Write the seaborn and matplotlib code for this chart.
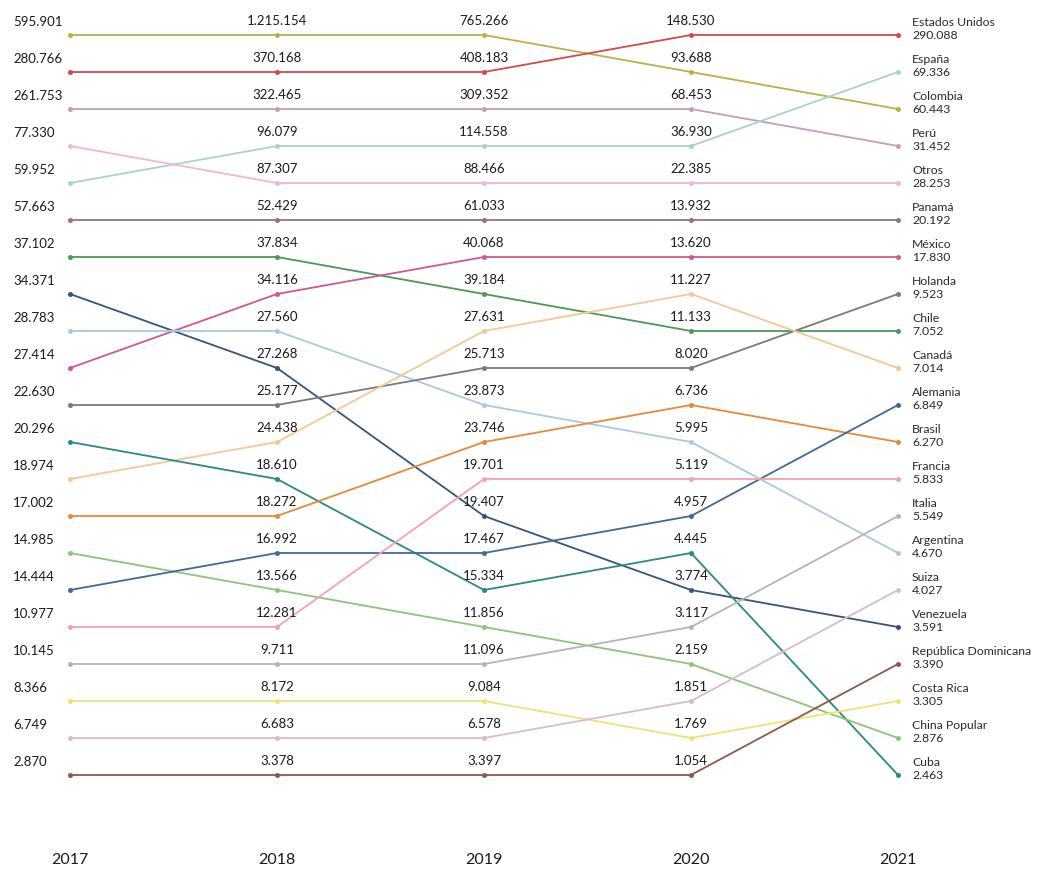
import matplotlib
matplotlib.use("Agg")
import matplotlib.pyplot as plt
import seaborn as sns
import pandas as pd

years = ["2017", "2018", "2019", "2020", "2021"]
countries = ["Colombia", "Estados Unidos", "Perú", "España", "Otros", "Panamá",
             "Chile", "México", "Venezuela", "Argentina", "Holanda", "Canadá",
             "Cuba", "Brasil", "China Popular", "Alemania", "Francia", "Italia",
             "Costa Rica", "Suiza", "República Dominicana"]
v2017 = [595901, 280766, 261753, 59952, 77330, 57663, 37102, 27414, 34371, 28783,
         22630, 18974, 20296, 17002, 14985, 14444, 10977, 10145, 8366, 6749, 2870]
v2018 = [1215154, 370168, 322465, 96079, 87307, 52429, 37834, 34116, 27268, 27560,
         25177, 24438, 18610, 18272, 13566, 16992, 12281, 9711, 8172, 6683, 3378]
v2019 = [765266, 408183, 309352, 114558, 88466, 61033, 39184, 40068, 19407, 23873,
         25713, 27631, 15334, 23746, 11856, 17467, 19701, 11096, 9084, 6578, 3397]
v2020 = [93688, 148530, 68453, 36930, 22385, 13932, 11133, 13620, 3774, 5995,
         8020, 11227, 4445, 6736, 2159, 4957, 5119, 3117, 1769, 1851, 1054]
v2021 = [60443, 290088, 31452, 69336, 28253, 20192, 7052, 17830, 3591, 4670,
         9523, 7014, 2463, 6270, 2876, 6849, 5833, 5549, 3305, 4027, 3390]
colors = ["#bdae48", "#d4494a", "#c59cba", "#a6d3cf", "#f2b8c6", "#94728f",
          "#4a9a55", "#d0588c", "#34557f", "#a9c9e3", "#7a7a7a", "#f6c694",
          "#2b8a80", "#e58a3a", "#8cc47a", "#3f6a98", "#f3a3ad", "#b4b4b4",
          "#efe07a", "#d6bcc8", "#8a5a4c"]

values = [v2017, v2018, v2019, v2020, v2021]

rows = []
for yi, (yr, vals) in enumerate(zip(years, values)):
    s = pd.Series(vals, index=countries)
    rk = s.rank(ascending=False, method="first").astype(int)
    for c in countries:
        rows.append({"country": c, "year": yr, "xi": yi, "value": s[c], "rank": rk[c]})
df = pd.DataFrame(rows)

def fmt(v):
    return f"{v:,}".replace(",", ".")

sns.set_theme(style="white")
plt.rcParams["font.family"] = ["Lato", "DejaVu Sans"]

fig = plt.figure(figsize=(10.53, 8.69), dpi=100)
ax = fig.add_axes([0, 0, 1, 1])
palette = dict(zip(countries, colors))

sns.lineplot(data=df, x="xi", y="rank", hue="country", palette=palette,
             units="country", estimator=None, sort=True, linewidth=1.3,
             marker="o", markersize=3.6, markeredgewidth=0, legend=False, ax=ax)

px = 0.72  # points per pixel at dpi 100
for _, r in df.iterrows():
    if r["xi"] == 0:
        ax.annotate(fmt(r["value"]), (r["xi"], r["rank"]), xytext=(-57 * px, 13 * px),
                    textcoords="offset points", ha="left", va="center",
                    fontsize=9.5, color="#1a1a1a")
    elif r["xi"] < 4:
        ax.annotate(fmt(r["value"]), (r["xi"], r["rank"]), xytext=(0, 14 * px),
                    textcoords="offset points", ha="center", va="center",
                    fontsize=9.5, color="#1a1a1a")
    else:
        ax.annotate(r["country"], (r["xi"], r["rank"]), xytext=(14 * px, 13 * px),
                    textcoords="offset points", ha="left", va="center",
                    fontsize=8.8, color="#2a2a2a")
        ax.annotate(fmt(r["value"]), (r["xi"], r["rank"]), xytext=(14 * px, 0),
                    textcoords="offset points", ha="left", va="center",
                    fontsize=8.8, color="#2a2a2a")

for i, yr in enumerate(years):
    ax.text(i, 23.3, yr, ha="center", va="center", fontsize=11.5, color="#1a1a1a")

# map year index 0 -> px 70, 4 -> px 898 ; rank 1 -> px 35, 21 -> px 775
ax.set_xlim(-70 / 207, 4 + (1053 - 898) / 207)
ax.set_ylim(21 + (869 - 775) / 37, 1 - 35 / 37)
ax.axis("off")

fig.savefig("out.png", dpi=100, facecolor="white")
